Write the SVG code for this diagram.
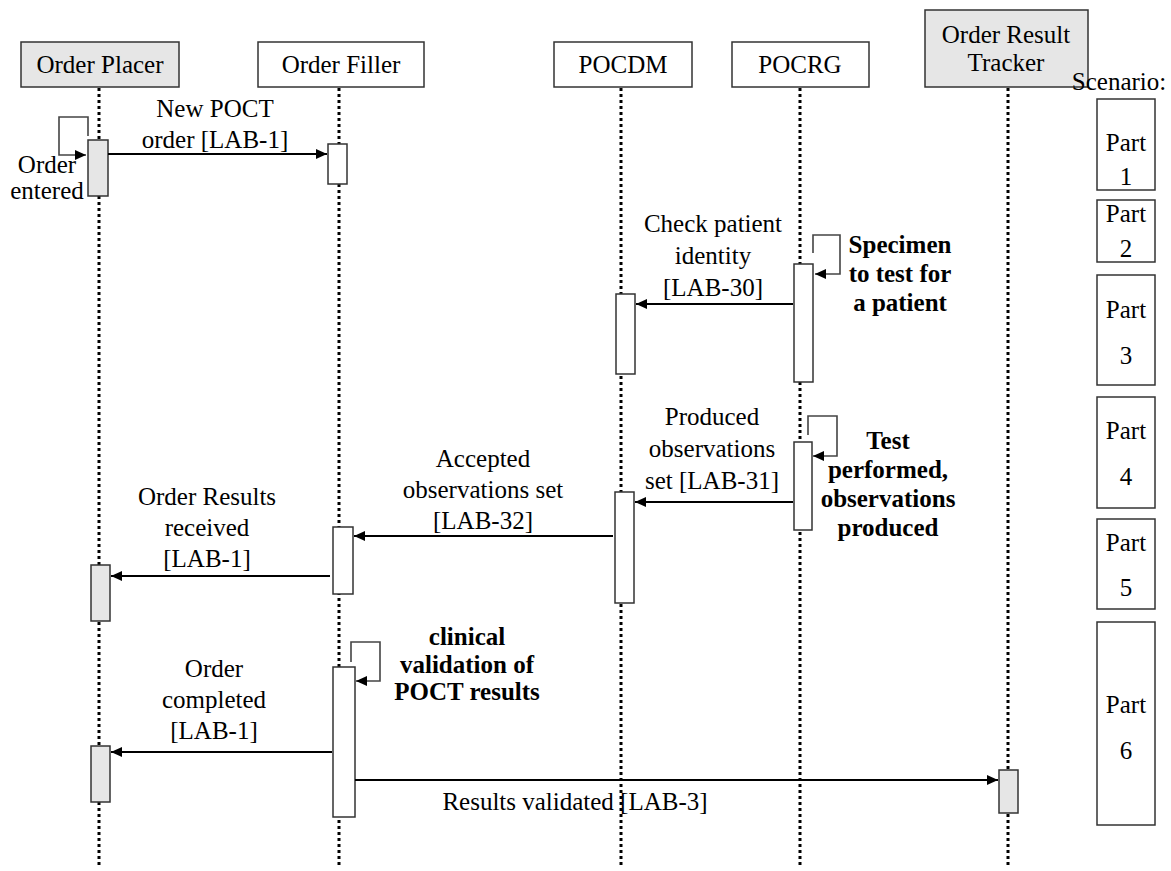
<svg xmlns="http://www.w3.org/2000/svg" width="1171" height="871" viewBox="0 0 1171 871">
<style>
text{font-family:'Liberation Serif','Times New Roman',serif;font-size:25px;fill:#000;text-anchor:middle}
.b{font-weight:bold}
.hdr{stroke:#333;stroke-width:1.5}
.gray{fill:#e6e6e6}
.white{fill:#fff}
.life{stroke:#000;stroke-width:3;stroke-dasharray:3 3;fill:none}
.act{stroke:#333;stroke-width:1.5}
.msg{stroke:#000;stroke-width:2;fill:none}
.loop{stroke:#444;stroke-width:1.6;fill:none}
.part{fill:#fff;stroke:#333;stroke-width:1.5}
</style>
<defs>
<marker id="ah" markerWidth="12" markerHeight="10" refX="11" refY="5" orient="auto" markerUnits="userSpaceOnUse">
<path d="M0,0 L11,5 L0,10 Z" fill="#000"/>
</marker>
</defs>
<rect width="1171" height="871" fill="#fff"/>

<g id="lifelines">
<line class="life" x1="99" y1="88" x2="99" y2="868"/>
<line class="life" x1="339" y1="88" x2="339" y2="868"/>
<line class="life" x1="621" y1="88" x2="621" y2="868"/>
<line class="life" x1="800" y1="88" x2="800" y2="868"/>
<line class="life" x1="1008" y1="88" x2="1008" y2="868"/>
</g>

<g id="order-placer">
<rect class="hdr gray" x="21" y="42" width="158" height="45"/>
<text x="100" y="73">Order Placer</text>
<rect class="act gray" x="88" y="140" width="20" height="56"/>
<rect class="act gray" x="91" y="565" width="19" height="56"/>
<rect class="act gray" x="91" y="746" width="19" height="56"/>
</g>

<g id="order-filler">
<rect class="hdr white" x="258" y="42" width="166" height="45"/>
<text x="341" y="73">Order Filler</text>
<rect class="act white" x="328" y="144" width="19" height="40"/>
<rect class="act white" x="333" y="527" width="20" height="67"/>
<rect class="act white" x="333" y="667" width="22" height="150"/>
</g>

<g id="pocdm">
<rect class="hdr white" x="554" y="42" width="138" height="45"/>
<text x="623" y="73">POCDM</text>
<rect class="act white" x="616" y="294" width="19" height="80"/>
<rect class="act white" x="615" y="492" width="19" height="111"/>
</g>

<g id="pocrg">
<rect class="hdr white" x="732" y="42" width="137" height="45"/>
<text x="800" y="73">POCRG</text>
<rect class="act white" x="794" y="264" width="19" height="118"/>
<rect class="act white" x="794" y="442" width="18" height="88"/>
</g>

<g id="order-result-tracker">
<rect class="hdr gray" x="925" y="10" width="163" height="77"/>
<text x="1006" y="43">Order Result</text>
<text x="1006" y="71">Tracker</text>
<rect class="act gray" x="999" y="770" width="19" height="43"/>
</g>

<g id="connectors">
<path class="loop" d="M88,136 V117 H59 V155 H86" marker-end="url(#ah)"/>
<line class="msg" x1="108" y1="154" x2="327" y2="154" marker-end="url(#ah)"/>
<line class="msg" x1="793" y1="304" x2="636" y2="304" marker-end="url(#ah)"/>
<path class="loop" d="M813,253 V235 H840 V274 H815" marker-end="url(#ah)"/>
<path class="loop" d="M808,435 V416 H837 V456 H813" marker-end="url(#ah)"/>
<line class="msg" x1="793" y1="502" x2="635" y2="502" marker-end="url(#ah)"/>
<line class="msg" x1="613" y1="536" x2="354" y2="536" marker-end="url(#ah)"/>
<line class="msg" x1="330" y1="576" x2="111" y2="576" marker-end="url(#ah)"/>
<path class="loop" d="M351,662 V642 H380 V681 H356" marker-end="url(#ah)"/>
<line class="msg" x1="332" y1="752" x2="111" y2="752" marker-end="url(#ah)"/>
<line class="msg" x1="355" y1="780" x2="998" y2="780" marker-end="url(#ah)"/>
</g>

<g id="labels">
<text x="215" y="117">New POCT</text>
<text x="215" y="148">order [LAB-1]</text>
<text x="47" y="173">Order</text>
<text x="47" y="199">entered</text>
<text x="713" y="232">Check patient</text>
<text x="713" y="264">identity</text>
<text x="713" y="296">[LAB-30]</text>
<text class="b" x="900" y="253">Specimen</text>
<text class="b" x="900" y="282">to test for</text>
<text class="b" x="900" y="311">a patient</text>
<text x="712" y="425">Produced</text>
<text x="712" y="457">observations</text>
<text x="712" y="489">set [LAB-31]</text>
<text class="b" x="888" y="449">Test</text>
<text class="b" x="888" y="478">performed,</text>
<text class="b" x="888" y="507">observations</text>
<text class="b" x="888" y="536">produced</text>
<text x="483" y="467">Accepted</text>
<text x="483" y="498">observations set</text>
<text x="483" y="529">[LAB-32]</text>
<text x="207" y="505">Order Results</text>
<text x="207" y="536">received</text>
<text x="207" y="567">[LAB-1]</text>
<text class="b" x="467" y="645">clinical</text>
<text class="b" x="467" y="673">validation of</text>
<text class="b" x="467" y="700">POCT results</text>
<text x="214" y="677">Order</text>
<text x="214" y="708">completed</text>
<text x="214" y="739">[LAB-1]</text>
<text x="575" y="810">Results validated [LAB-3]</text>
</g>

<g id="scenario">
<text x="1119" y="90">Scenario:</text>
<rect class="part" x="1097" y="99" width="58" height="91"/>
<text x="1126" y="151">Part</text>
<text x="1126" y="185">1</text>
<rect class="part" x="1097" y="200" width="58" height="62"/>
<text x="1126" y="222">Part</text>
<text x="1126" y="257">2</text>
<rect class="part" x="1097" y="275" width="58" height="110"/>
<text x="1126" y="318">Part</text>
<text x="1126" y="364">3</text>
<rect class="part" x="1097" y="397" width="58" height="111"/>
<text x="1126" y="439">Part</text>
<text x="1126" y="485">4</text>
<rect class="part" x="1097" y="519" width="58" height="90"/>
<text x="1126" y="551">Part</text>
<text x="1126" y="596">5</text>
<rect class="part" x="1097" y="622" width="58" height="203"/>
<text x="1126" y="713">Part</text>
<text x="1126" y="759">6</text>
</g>
</svg>
